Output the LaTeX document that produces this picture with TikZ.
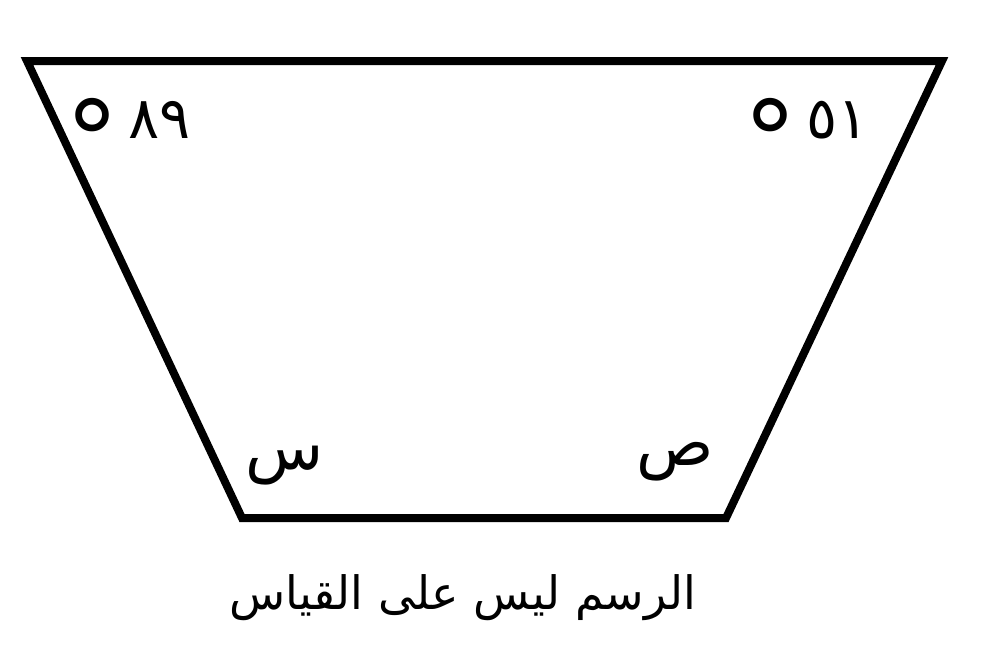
\documentclass[tikz,border=0pt]{standalone}
\usepackage{fontspec}
\newfontfamily\arabicfont[Script=Arabic]{DejaVu Sans}
\TeXXeTstate=1
\newcommand\degmark{{\fontsize{54}{54}\selectfont\raisebox{-20pt}{°}}}
\begin{document}
\begin{tikzpicture}[x=0.5pt,y=-0.5pt,
  edge/.style={line width=4pt,line join=miter,black},
  lbl/.style={inner sep=0pt,font=\arabicfont\fontsize{29}{30}\selectfont},
  letter/.style={inner sep=0pt,font=\arabicfont\fontsize{32}{34}\selectfont},
  captext/.style={inner sep=0pt,font=\arabicfont\fontsize{23}{26}\selectfont}]
\useasboundingbox (0,0) rectangle (1000,666);
\coordinate (A) at (27,61);
\coordinate (B) at (942,61);
\coordinate (C) at (726,518);
\coordinate (D) at (242,518);
\draw[edge] (A) -- (B) -- (C) -- (D) -- cycle;
\node[lbl] (a1) at (128,138) {\beginL\degmark\,٨٩\endL};
\node[lbl] (a2) at (806,138) {\beginL\degmark\,٥١\endL};
\node[letter] (s) at (285,466) {\beginR س\endR};
\node[letter] (p) at (675,462) {\beginR ص\endR};
\node[captext] (t) at (463,598) {\beginR الرسم ليس على القياس\endR};
\end{tikzpicture}
\end{document}
